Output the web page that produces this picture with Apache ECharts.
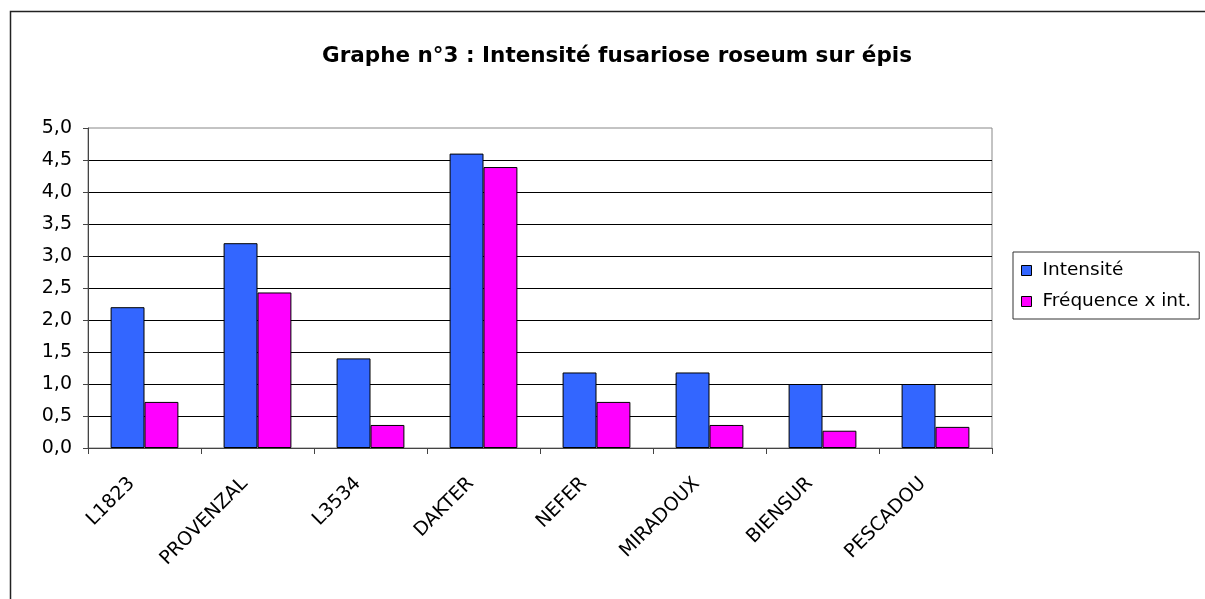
<!DOCTYPE html>
<html>
<head>
<meta charset="utf-8">
<script src="https://cdn.jsdelivr.net/npm/echarts@6/dist/echarts.min.js"></script>
<style>
html,body{margin:0;padding:0;background:#fff;}
#chart{width:1205px;height:599px;}
</style>
</head>
<body>
<div id="chart"></div>
<script>
const categories = ['L1823','PROVENZAL','L3534','DAKTER','NEFER','MIRADOUX','BIENSUR','PESCADOU'];
const intensite = [2.2, 3.2, 1.4, 4.6, 1.18, 1.18, 1.0, 1.0];
const frequence = [0.72, 2.43, 0.36, 4.39, 0.72, 0.36, 0.27, 0.33];
const seriesNames = ['Intensité', 'Fréquence x int.'];
const titleText = 'Graphe n°3 : Intensité fusariose roseum sur épis';

const FONT = '"DejaVu Sans", "Liberation Sans", Arial, sans-serif';
const chart = echarts.init(document.getElementById('chart'), null, {renderer: 'canvas'});
chart.setOption({
  animation: false,
  backgroundColor: '#fff',
  title: {
    text: titleText,
    left: 317,
    top: 40,
    textStyle: {fontFamily: FONT, fontWeight: 'bold', fontSize: 21.5, color: '#000'}
  },
  graphic: [{
    type: 'rect', silent: true, z: 0,
    shape: {x: 10.5, y: 11.5, width: 1400, height: 800},
    style: {fill: 'none', stroke: '#222', lineWidth: 1.5}
  }],
  legend: {
    orient: 'vertical',
    left: 1013,
    top: 252,
    padding: [9, 8, 8, 8],
    itemGap: 12,
    itemWidth: 10,
    itemHeight: 10,
    itemStyle: {borderColor: '#000', borderWidth: 1},
    icon: 'rect',
    borderColor: '#333',
    borderWidth: 1,
    textStyle: {fontFamily: FONT, fontSize: 18.5, color: '#000', lineHeight: 18, padding: [0, 0, 0, 6]},
    data: seriesNames
  },
  grid: {
    left: 88, top: 128, right: 213, bottom: 151,
    show: true, borderColor: '#888', borderWidth: 1, backgroundColor: 'transparent'
  },
  xAxis: {
    type: 'category',
    data: categories,
    boundaryGap: true,
    axisLine: {lineStyle: {color: '#444', width: 1}},
    axisTick: {show: true, length: 6, lineStyle: {color: '#444'}},
    axisLabel: {rotate: 45, margin: 20, padding: [0, 18, 0, 0], fontFamily: FONT, fontSize: 19, color: '#000', interval: 0}
  },
  yAxis: {
    type: 'value',
    min: 0, max: 5, interval: 0.5,
    axisLine: {show: true, lineStyle: {color: '#444', width: 1}},
    axisTick: {show: true, length: 5, lineStyle: {color: '#444'}},
    axisLabel: {margin: 16, fontFamily: FONT, fontSize: 19, color: '#000',
      formatter: v => v.toFixed(1).replace('.', ',')},
    splitLine: {show: true, showMaxLine: false, showMinLine: false, lineStyle: {color: '#000', width: 1}}
  },
  series: [
    {name: seriesNames[0], type: 'bar', data: intensite, barGap: '0%', barCategoryGap: '40%',
     itemStyle: {color: '#3366FF', borderColor: '#000', borderWidth: 1}},
    {name: seriesNames[1], type: 'bar', data: frequence, barGap: '0%', barCategoryGap: '40%',
     itemStyle: {color: '#FF00FF', borderColor: '#000', borderWidth: 1}}
  ]
});
</script>
</body>
</html>
